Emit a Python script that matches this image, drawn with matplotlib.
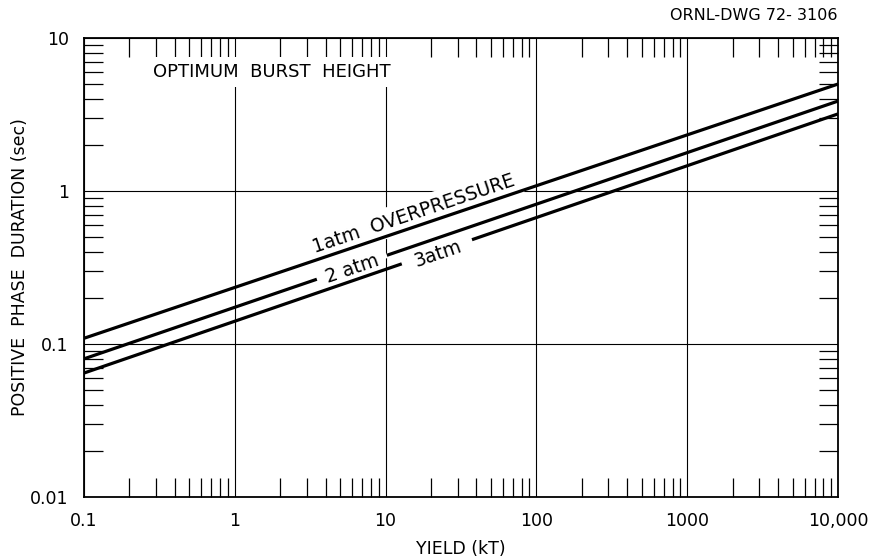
import numpy as np
import matplotlib
matplotlib.use("Agg")
import matplotlib.pyplot as plt
from matplotlib.ticker import LogLocator, NullFormatter

# data (yield in kT, duration in sec)
yield_kt = [0.1, 10000]
dur_1atm = [0.109, 5.0]
dur_2atm = [0.080, 3.87]
dur_3atm = [0.0646, 3.19]

x_ticks = [0.1, 1, 10, 100, 1000, 10000]
x_ticklabels = ["0.1", "1", "10", "100", "1000", "10,000"]
y_ticks = [0.01, 0.1, 1, 10]
y_ticklabels = ["0.01", "0.1", "1", "10"]

# where the curve labels sit (x in kT); 2 and 3 atm curves are broken there
lbl_1atm_x = 16.4
gap_2atm = [3.5, 10.2]
gap_3atm = [12.8, 37.4]

plt.rcParams["font.family"] = "DejaVu Sans"

fig = plt.figure(figsize=(8.74, 5.57), dpi=100)
ax = fig.add_axes([84 / 874, 1 - 497 / 557, (838 - 84) / 874, (497 - 38) / 557])

ax.set_xscale("log")
ax.set_yscale("log")
ax.set_xlim(0.1, 10000)
ax.set_ylim(0.01, 10)

ax.set_xticks(x_ticks, x_ticklabels)
ax.set_yticks(y_ticks, y_ticklabels)
ax.xaxis.set_minor_locator(LogLocator(base=10, subs=range(2, 10), numticks=30))
ax.yaxis.set_minor_locator(LogLocator(base=10, subs=range(2, 10), numticks=30))
ax.xaxis.set_minor_formatter(NullFormatter())
ax.yaxis.set_minor_formatter(NullFormatter())

ax.tick_params(which="minor", direction="in", length=14, width=0.9,
               top=True, right=True, color="black")
ax.tick_params(which="major", length=0, labelsize=12.5)
ax.tick_params(axis="x", which="major", pad=11)
ax.tick_params(axis="y", which="major", pad=11)
ax.grid(which="major", color="black", linewidth=0.8)
for sp in ax.spines.values():
    sp.set_linewidth(1.3)

# curves
ax.plot(yield_kt, dur_1atm, color="black", lw=2.3, zorder=6, solid_capstyle="butt")
ax.plot(yield_kt, dur_2atm, color="black", lw=2.3, zorder=4, solid_capstyle="butt")
ax.plot(yield_kt, dur_3atm, color="black", lw=2.3, zorder=4, solid_capstyle="butt")


def on_line(xs, ys, x):
    return 10 ** np.interp(np.log10(x), np.log10(xs), np.log10(ys))


def screen_angle(xs, ys):
    p0 = ax.transData.transform((xs[0], ys[0]))
    p1 = ax.transData.transform((xs[-1], ys[-1]))
    return np.degrees(np.arctan2(p1[1] - p0[1], p1[0] - p0[0]))


a1 = screen_angle(yield_kt, dur_1atm)
off = 5.0
ax.annotate("1atm  OVERPRESSURE", xy=(lbl_1atm_x, on_line(yield_kt, dur_1atm, lbl_1atm_x)),
            xytext=(-off * np.sin(np.radians(a1)), off * np.cos(np.radians(a1))),
            textcoords="offset points", rotation=a1, rotation_mode="anchor",
            ha="center", va="baseline", fontsize=13.5, zorder=5,
            bbox=dict(facecolor="white", edgecolor="none", boxstyle="square,pad=0.3"))

# break the 2 and 3 atm curves for their labels
for gap, dur, txt in [(gap_2atm, dur_2atm, "2 atm"), (gap_3atm, dur_3atm, "3atm")]:
    gx = np.array(gap)
    ax.plot(gx, on_line(yield_kt, dur, gx), color="white", lw=4,
            zorder=4.5, solid_capstyle="butt")
    xc = np.sqrt(gx[0] * gx[1])
    ax.text(xc, on_line(yield_kt, dur, xc), txt,
            rotation=screen_angle(yield_kt, dur), rotation_mode="anchor",
            ha="center", va="center_baseline", fontsize=13.5, zorder=5)

ax.text(0.0915, 0.926, "OPTIMUM  BURST  HEIGHT", transform=ax.transAxes,
        ha="left", va="center", fontsize=13, zorder=3,
        bbox=dict(facecolor="white", edgecolor="none", boxstyle="square,pad=0.35"))

ax.set_xlabel("YIELD (kT)", fontsize=12.5)
ax.set_ylabel("POSITIVE  PHASE  DURATION (sec)", fontsize=12.5)
ax.xaxis.set_label_coords(0.5, -0.093)
ax.yaxis.set_label_coords(-0.073, 0.5)

fig.text(837 / 874, 1 - 15 / 557, "ORNL-DWG 72- 3106", ha="right", va="center",
         fontsize=11.5)

fig.savefig("out.png", dpi=100)
